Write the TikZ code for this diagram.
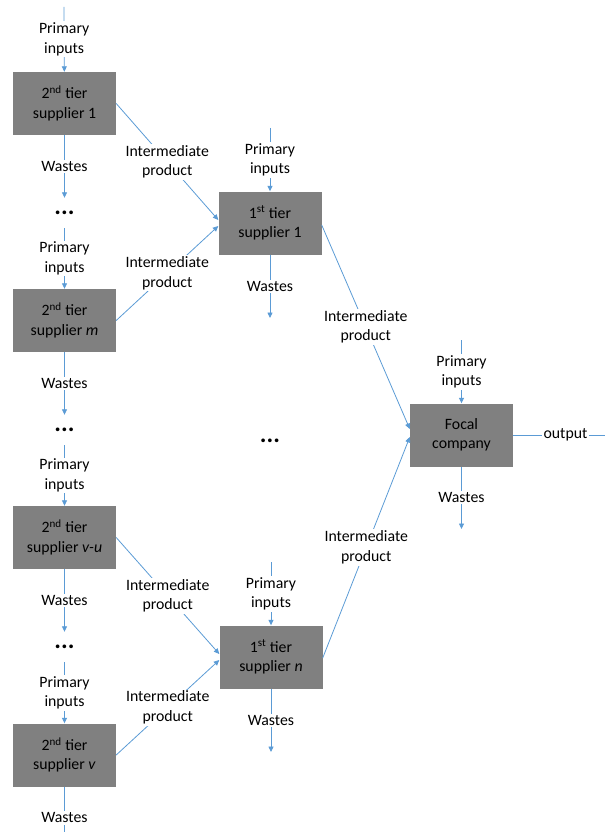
\documentclass[tikz,border=0pt]{standalone}
\usepackage{fontspec}
\setmainfont{Carlito}
\usetikzlibrary{arrows.meta}
\definecolor{lblue}{RGB}{91,155,213}
\definecolor{boxgray}{RGB}{128,128,128}
\begin{document}
\begin{tikzpicture}[x=1pt,y=-1pt,
  box/.style={fill=boxgray, minimum width=103pt, minimum height=63pt, align=center, inner sep=0pt, font=\fontsize{15.8}{19.5}\selectfont},
  lbl/.style={fill=white, align=center, inner sep=1.5pt, font=\fontsize{15.8}{19.5}\selectfont},
  conn/.style={draw=lblue, line width=0.8pt},
  arr/.style={conn, -{Triangle[length=5.5pt,width=5pt]}},
  dotsn/.style={minimum height=30pt, inner sep=0pt, font=\fontsize{25}{25}\selectfont\bfseries}
]
\useasboundingbox (0,0) rectangle (605,832);
% left column
\coordinate (t1) at (64,7);
\node[box] (s1) at (64.5,103.5) {2\textsuperscript{nd} tier\\supplier 1};
\node[dotsn] (d1) at (64.5,213) {...};
\node[box] (sm) at (64.5,320.5) {2\textsuperscript{nd} tier\\supplier \textit{m}};
\node[dotsn] (d2) at (64.5,430) {...};
\node[box] (su) at (64.5,537.5) {2\textsuperscript{nd} tier\\supplier \textit{v-u}};
\node[dotsn] (d3) at (64.5,647) {...};
\node[box] (sv) at (64.5,755) {2\textsuperscript{nd} tier\\supplier \textit{v}};
\coordinate (b1) at (64.5,832);
% first tier
\coordinate (t2) at (270,128);
\node[box] (f1) at (270,223) {1\textsuperscript{st} tier\\supplier 1};
\coordinate (w2) at (270,318);
\node[dotsn] (dm) at (270,441) {...};
\coordinate (t3) at (271,562);
\node[box] (fn) at (271,657) {1\textsuperscript{st} tier\\supplier \textit{n}};
\coordinate (w3) at (271,752);
% focal
\coordinate (t4) at (461.5,340);
\node[box] (fc) at (461.5,435) {Focal\\company};
\coordinate (w4) at (461.5,529);
\coordinate (o1) at (605,435);

% left column connectors
\draw[arr] (t1) -- node[lbl]{Primary\\inputs} (s1);
\draw[arr] (s1) -- node[lbl]{Wastes} (d1);
\draw[arr] (d1) -- node[lbl]{Primary\\inputs} (sm);
\draw[arr] (sm) -- node[lbl]{Wastes} (d2);
\draw[arr] (d2) -- node[lbl]{Primary\\inputs} (su);
\draw[arr] (su) -- node[lbl]{Wastes} (d3);
\draw[arr] (d3) -- node[lbl]{Primary\\inputs} (sv);
\draw[conn] (sv) -- node[lbl,pos=0.69]{Wastes} (b1);

% first tier vertical
\draw[arr] (t2) -- node[lbl]{Primary\\inputs} (f1);
\draw[arr] (f1) -- node[lbl]{Wastes} (w2);
\draw[arr] (t3) -- node[lbl]{Primary\\inputs} (fn);
\draw[arr] (fn) -- node[lbl]{Wastes} (w3);

% focal vertical
\draw[arr] (t4) -- node[lbl]{Primary\\inputs} (fc);
\draw[arr] (fc) -- node[lbl]{Wastes} (w4);
\draw[conn] (fc) -- node[lbl,pos=0.57]{output} (o1);

% intermediate products
\draw[arr] (s1.east) -- node[lbl]{Intermediate\\product} ([yshift=3pt]f1.west);
\draw[arr] (sm.east) -- node[lbl]{Intermediate\\product} ([yshift=-3pt]f1.west);
\draw[arr] (su.east) -- node[lbl]{Intermediate\\product} ([yshift=3pt]fn.west);
\draw[arr] (sv.east) -- node[lbl]{Intermediate\\product} ([yshift=-3pt]fn.west);
\draw[arr] ([yshift=-2pt]f1.east) -- node[lbl]{Intermediate\\product} ([yshift=6pt]fc.west);
\draw[arr] ([yshift=-1pt]fn.east) -- node[lbl]{Intermediate\\product} ([yshift=-2pt]fc.west);
\end{tikzpicture}
\end{document}
